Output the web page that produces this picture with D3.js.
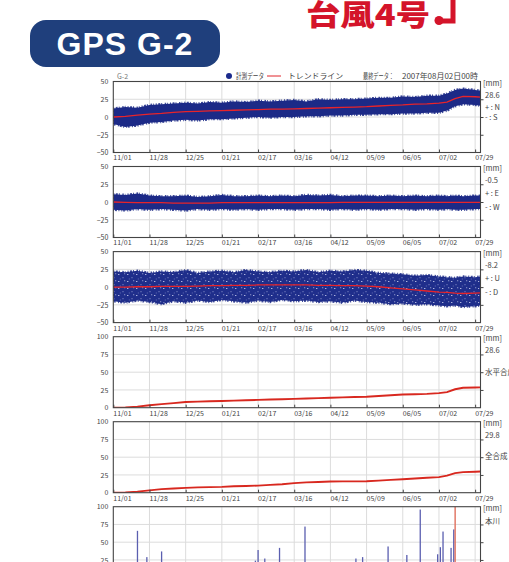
<!DOCTYPE html>
<html><head><meta charset="utf-8">
<script src="https://cdn.jsdelivr.net/npm/d3@7"></script>
<style>html,body{margin:0;padding:0;background:#fff;overflow:hidden}</style>
</head><body>
<svg id="c" width="509" height="562"></svg>
<script>
// ---------- DATA ----------
const dates = ["2006-11-01","2006-11-10","2006-11-19","2006-11-28","2006-12-07","2006-12-16","2006-12-25",
  "2007-01-03","2007-01-12","2007-01-21","2007-01-30","2007-02-08","2007-02-17","2007-02-26",
  "2007-03-07","2007-03-16","2007-03-25","2007-04-03","2007-04-12","2007-04-21","2007-04-30",
  "2007-05-09","2007-05-18","2007-05-27","2007-06-05","2007-06-14","2007-06-23",
  "2007-07-02","2007-07-08","2007-07-14","2007-07-20","2007-07-29","2007-08-02"];
const tickLabels = ["11/01","11/28","12/25","01/21","02/17","03/16","04/12","05/09","06/05","07/02","07/29"];
const tickDates = ["2006-11-01","2006-11-28","2006-12-25","2007-01-21","2007-02-17","2007-03-16","2007-04-12","2007-05-09","2007-06-05","2007-07-02","2007-07-29"];

// N-S
const trendNS = [0,1,2.5,4,5,6.5,7.5,8,8.5,9,9.5,10,10.5,11,11,11.5,12,12.5,13,13.5,14,14.5,15.5,16.5,17,18,18.5,19.5,21,26,29,28.5,28];
const upperNS = [12,14,13,17,18,19,20,19,21,20,22,21,23,22,23,24,22,25,24,25,25,26,27,27,29,28,30,30,33,38,40,38,37];
const lowerNS = [-10,-14,-12,-8,-7,-5,-4,-5,-3,-3,-2,-1,0,-1,0,0,1,1,2,2,3,3,4,4,5,5,6,6,9,15,18,17,16];
// E-W
const trendEW = [0,-0.5,-1,-1,-1,-1.5,-1.5,-1.5,-1.5,-1,-1,-1,-1,-1,-1,-1,-1,-1,-1,-0.5,-0.5,-0.5,-0.5,-0.5,-0.5,-0.5,-0.5,-0.5,-0.5,-0.5,-0.5,-0.5,-0.5];
const upperEW = [11,10,12,9,8,8,9,7,8,10,8,8,9,8,9,8,10,9,10,8,9,9,8,9,8,9,8,9,8,9,8,9,9];
const lowerEW = [-11,-12,-10,-11,-10,-11,-12,-10,-11,-10,-11,-10,-11,-10,-10,-11,-10,-10,-11,-10,-11,-10,-11,-10,-10,-11,-10,-11,-10,-11,-11,-10,-10];
// U-D
const trendUD = [0,0,0.5,0.5,1,1,1,1.5,2,2,2.5,2.5,3,3,3,3,3,2.5,2.5,2,2,1.5,0.5,-1,-2.5,-4,-5.5,-7,-7.5,-8.5,-9,-8.5,-8.2];
const upperUD = [22,21,23,20,22,21,24,20,22,23,21,24,22,21,23,22,24,21,23,22,24,23,20,19,18,16,17,15,14,13,15,14,15];
const lowerUD = [-20,-22,-19,-21,-24,-20,-22,-19,-21,-18,-20,-22,-19,-21,-18,-20,-19,-21,-20,-22,-19,-21,-22,-24,-23,-25,-24,-26,-27,-26,-28,-27,-26];
// composites
const horizontal = [0,0.5,1.5,3.5,5,6.5,8,8.5,9,9.5,10,10.5,11,11.5,12,12.5,13,13.5,14,14.5,15,15.5,16.5,17.5,18.5,19,19.5,20.5,22,26,28,28.4,28.6];
const total = [0,0.5,1.5,3.3,5,6,6.8,7.5,7.8,8.2,9,9.5,10,11,12,13.5,14.5,15,15.8,16,16,16.2,17,18,19,20,21,22,24,27.5,29,29.5,29.8];
// rainfall
const rainDates = ["2006-11-19","2006-11-26","2006-12-07","2007-02-15","2007-02-17","2007-02-22","2007-03-05","2007-03-24",
  "2007-05-01","2007-05-06","2007-05-25","2007-06-08","2007-06-18","2007-07-01","2007-07-03","2007-07-05","2007-07-11","2007-07-13"];
const rainValues = [66,29,37,24,39,27,42,72,27,29,44,32,96,33,43,65,42,68];
const typhoonDate = ["2007-07-14"];
const typhoonValue = [150];

const yTicksSigned = [-50,-25,0,25,50];
const yTicksPos = [0,25,50,75,100];
const rightLabels = [
  [["[mm]",1.5],["28.6",13.5],["+ : N",26],["- : S",36]],
  [["[mm]",1.5],["-0.5",13.5],["+ : E",26.5],["- : W",40.5]],
  [["[mm]",1.5],["-8.2",13.3],["+ : U",26.3],["- : D",41]],
  [["[mm]",1.5],["28.6",13.3],["水平合成",36]],
  [["[mm]",1.5],["29.8",13.3],["全合成",35]],
  [["[mm]",1.5],["本川",15]]
];

// ---------- DRAW ----------
const svg = d3.select("#c");
const parse = d3.timeParse("%Y-%m-%d");
const D = dates.map(parse);
const x = d3.scaleTime().domain([parse("2006-11-01"), parse("2007-08-02")]).range([113.3, 480.5]);
const X0 = 113.3, X1 = 480.5, H = 71;
const tops = [81.5,166.5,251.6,336.7,421.7,506.7];
const FONT = "'Noto Sans CJK JP', 'DejaVu Sans', sans-serif";
const TXT = "#444";

// Title
svg.append("rect").attr("x",30).attr("y",20).attr("width",190).attr("height",47).attr("rx",16).attr("fill","#1f3f7c");
svg.append("text").attr("x",125).attr("y",55).attr("text-anchor","middle").attr("fill","#fff")
  .attr("font-family","'Liberation Sans', Arial, sans-serif").attr("font-weight","bold").attr("font-size",32)
  .attr("letter-spacing",1).text("GPS G-2");
svg.append("text").attr("x",306).attr("y",26).attr("fill","#d4142a")
  .attr("font-family",FONT).attr("font-weight","900").attr("font-size",29)
  .attr("textLength",124).attr("lengthAdjust","spacingAndGlyphs").text("台風4号");
svg.append("path").attr("d","M453,-2 V21 H441").attr("fill","none").attr("stroke","#d4142a").attr("stroke-width",5);
svg.append("circle").attr("cx",439).attr("cy",20.5).attr("r",4.5).attr("fill","#d4142a");

// Legend
const lg = svg.append("g").attr("font-family",FONT).attr("font-size",7.5).attr("fill",TXT);
const legTexts = [["計測データ",236,28],["トレンドライン",288,55],["最終データ：",363,31],["2007年08月02日00時",402,76]];
lg.append("text").attr("x",117).attr("y",78.5).attr("fill","#777").attr("font-size",7).text("G-2");
lg.append("circle").attr("cx",229).attr("cy",76).attr("r",3).attr("fill","#1b2a8c");
lg.append("line").attr("x1",267).attr("x2",281).attr("y1",76).attr("y2",76).attr("stroke","#e0242a").attr("stroke-width",1);
lg.selectAll("text.l").data(legTexts).join("text").attr("class","l")
  .attr("x",d=>d[1]).attr("y",78.5).attr("textLength",d=>d[2]).attr("lengthAdjust","spacingAndGlyphs").text(d=>d[0]);

// pattern for sparse scatter
const defs = svg.append("defs");
const pat = defs.append("pattern").attr("id","spk").attr("width",9).attr("height",7).attr("patternUnits","userSpaceOnUse");
pat.append("rect").attr("width",9).attr("height",7).attr("fill","#1f2e8b");
pat.append("rect").attr("x",1).attr("y",1).attr("width",1.4).attr("height",1).attr("fill","#aeb4de");
pat.append("rect").attr("x",5.5).attr("y",4.2).attr("width",1).attr("height",1).attr("fill","#8f97cf");
pat.append("rect").attr("x",7.2).attr("y",0.4).attr("width",1).attr("height",0.8).attr("fill","#c9cde9");
pat.append("rect").attr("x",2.8).attr("y",5.6).attr("width",1).attr("height",0.8).attr("fill","#6f79bf");

const panels = [
  {dom:[-50,50], ticks:yTicksSigned, up:upperNS, lo:lowerNS, tr:trendNS, fill:"#1c2a87"},
  {dom:[-50,50], ticks:yTicksSigned, up:upperEW, lo:lowerEW, tr:trendEW, fill:"#1c2a87"},
  {dom:[-50,50], ticks:yTicksSigned, up:upperUD, lo:lowerUD, tr:trendUD, fill:"url(#spk)"},
  {dom:[0,100], ticks:yTicksPos, line:horizontal},
  {dom:[0,100], ticks:yTicksPos, line:total},
  {dom:[0,100], ticks:yTicksPos, bars:true}
];

panels.forEach((p,i)=>{
  const top = tops[i];
  const y = d3.scaleLinear().domain(p.dom).range([top+H, top]);
  const g = svg.append("g");
  defs.append("clipPath").attr("id","cp"+i).append("rect").attr("x",X0).attr("y",top).attr("width",X1-X0).attr("height",H);
  // grid
  g.append("g").selectAll("line").data(p.ticks.slice(1,-1)).join("line")
    .attr("x1",X0).attr("x2",X1).attr("y1",d=>y(d)).attr("y2",d=>y(d)).attr("stroke","#dcdcdc").attr("stroke-width",1);
  g.append("g").selectAll("line").data(tickDates.slice(1).map(parse)).join("line")
    .attr("x1",d=>x(d)).attr("x2",d=>x(d)).attr("y1",top).attr("y2",top+H).attr("stroke","#dcdcdc").attr("stroke-width",1);
  const dg = g.append("g").attr("clip-path","url(#cp"+i+")");
  if (p.up) {
    const bandD = d3.area().x(d=>x(d[0])).y0(d=>y(d[1])).y1(d=>y(d[2]));
    const band = D.map((d,k)=>[d,p.lo[k],p.up[k]]);
    dg.append("path").datum(band).attr("d", bandD).attr("fill",p.fill)
      .attr("stroke","#1c2a87").attr("stroke-width",2.4).attr("stroke-dasharray","1 1.5 2 1 1 2.5 1.5 1 0.8 2")
      .attr("stroke-opacity",0.85);
    dg.append("path").datum(D.map((d,k)=>[d,p.tr[k]]))
      .attr("d", d3.line().x(d=>x(d[0])).y(d=>y(d[1])))
      .attr("fill","none").attr("stroke","#e8242a").attr("stroke-width",1.3);
  }
  if (p.line) {
    dg.append("path").datum(D.map((d,k)=>[d,p.line[k]]))
      .attr("d", d3.line().x(d=>x(d[0])).y(d=>y(d[1])))
      .attr("fill","none").attr("stroke","#d8281f").attr("stroke-width",1.9);
  }
  if (p.bars) {
    dg.selectAll("rect.b").data(rainDates.map((d,k)=>[parse(d),rainValues[k]])).join("rect")
      .attr("x",d=>x(d[0])-0.6).attr("width",1.3).attr("y",d=>y(d[1])).attr("height",d=>y(0)-y(d[1]))
      .attr("fill","#5b5fb0");
    dg.selectAll("rect.t").data(typhoonDate.map((d,k)=>[parse(d),typhoonValue[k]])).join("rect")
      .attr("x",d=>x(d[0])-0.6).attr("width",1.4).attr("y",d=>y(d[1])).attr("height",d=>y(0)-y(d[1]))
      .attr("fill","#e0705e");
  }
  // border
  g.append("rect").attr("x",X0).attr("y",top).attr("width",X1-X0).attr("height",H)
    .attr("fill","none").attr("stroke","#444").attr("stroke-width",1.1);
  // bottom axis
  const xa = g.append("g").attr("transform",`translate(0,${top+H})`)
    .call(d3.axisBottom(x).tickValues(tickDates.map(parse)).tickFormat((d,k)=>tickLabels[k]).tickSize(-3).tickPadding(3));
  xa.select(".domain").remove();
  xa.selectAll("line").attr("stroke","#444");
  xa.selectAll("text").attr("text-anchor","start").attr("x",-0.5).attr("font-family",FONT).attr("font-size",7).attr("fill",TXT);
  // left axis
  const ya = g.append("g").attr("transform",`translate(${X0},0)`)
    .call(d3.axisLeft(y).tickValues(p.ticks).tickSize(0).tickPadding(5));
  ya.select(".domain").remove();
  ya.selectAll("text").attr("font-family",FONT).attr("font-size",7).attr("fill",TXT);
  // right ticks
  const ra = g.append("g").attr("transform",`translate(${X1},0)`)
    .call(d3.axisRight(y).tickValues(p.ticks.slice(1,-1)).tickSize(3).tickFormat(""));
  ra.select(".domain").remove();
  ra.selectAll("line").attr("stroke","#444");
  // right labels
  g.append("g").selectAll("text").data(rightLabels[i]).join("text")
    .attr("x",d=>d[0]==="[mm]"?483:485).attr("y",d=>top+d[1]).attr("dy","0.35em")
    .attr("font-family",FONT).attr("font-size",7.5).attr("fill",TXT).text(d=>d[0]);
});
</script>
</body></html>
